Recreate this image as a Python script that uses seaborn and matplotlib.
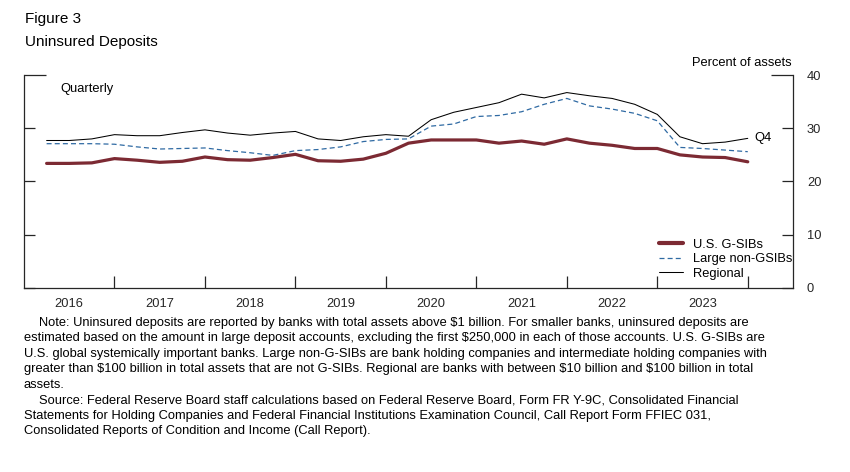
import numpy as np
import pandas as pd
import matplotlib
matplotlib.use("Agg")
import matplotlib.pyplot as plt
import seaborn as sns

# ── data (percent of assets, quarterly 2016Q1 .. 2023Q4) ──────────────────────
years = list(range(2016, 2024))
quarters = [1, 2, 3, 4]

gsib = [23.4, 23.4, 23.5, 24.3,
        24.0, 23.6, 23.8, 24.6,
        24.1, 24.0, 24.5, 25.1,
        23.9, 23.8, 24.2, 25.3,
        27.2, 27.8, 27.8, 27.8,
        27.2, 27.6, 27.0, 28.0,
        27.2, 26.8, 26.2, 26.2,
        25.0, 24.6, 24.5, 23.7]

large_non_gsib = [27.1, 27.1, 27.1, 27.0,
                  26.5, 26.1, 26.2, 26.3,
                  25.8, 25.4, 24.9, 25.8,
                  26.0, 26.5, 27.5, 27.9,
                  28.0, 30.4, 30.8, 32.2,
                  32.4, 33.1, 34.5, 35.6,
                  34.2, 33.6, 32.8, 31.4,
                  26.4, 26.2, 25.9, 25.6]

regional = [27.7, 27.7, 28.0, 28.8,
            28.6, 28.6, 29.2, 29.7,
            29.1, 28.7, 29.1, 29.4,
            28.0, 27.7, 28.4, 28.8,
            28.5, 31.6, 33.0, 33.9,
            34.8, 36.4, 35.7, 36.7,
            36.1, 35.6, 34.5, 32.6,
            28.4, 27.1, 27.4, 28.1]

series_labels = ["U.S. G-SIBs", "Large non-GSIBs", "Regional"]
y_ticks = [0, 10, 20, 30, 40]

# quarter-end positions on a continuous year axis
x = [y + q / 4 for y in years for q in quarters]
df = pd.DataFrame({"x": x, "gsib": gsib, "nongsib": large_non_gsib,
                   "regional": regional})

# ── style ────────────────────────────────────────────────────────────────────
sns.set_style("ticks")
plt.rcParams["font.family"] = ["Liberation Sans", "DejaVu Sans"]
plt.rcParams["text.color"] = "black"
fs = 9.3  # small text size

fig = plt.figure(figsize=(8.5, 4.72), dpi=100)
ax = fig.add_axes([24 / 850, 1 - 288 / 472, (793 - 24) / 850, (288 - 75) / 472])

sns.lineplot(data=df, x="x", y="gsib", ax=ax, color="#7c2a33", linewidth=2.3,
             label=series_labels[0], errorbar=None)
sns.lineplot(data=df, x="x", y="nongsib", ax=ax, color="#2f6aa3", linewidth=0.9,
             linestyle=(0, (4, 2.5)), label=series_labels[1], errorbar=None)
sns.lineplot(data=df, x="x", y="regional", ax=ax, color="black", linewidth=0.75,
             label=series_labels[2], errorbar=None)

# ── axes ─────────────────────────────────────────────────────────────────────
ax.set_xlim(2016, 2024.5)
ax.set_ylim(0, 40)
ax.set_xlabel("")
ax.set_ylabel("")
ax.spines["top"].set_visible(False)
for s in ["left", "right", "bottom"]:
    ax.spines[s].set_linewidth(0.9)

ax.set_xticks([y + 1 for y in years])
ax.set_xticklabels([])
ax.set_xticks([y + 0.5 for y in years], minor=True)
ax.set_xticklabels([str(y) for y in years], minor=True)
ax.tick_params(axis="x", which="major", direction="in", length=8.6, width=0.9)
ax.tick_params(axis="x", which="minor", length=0, pad=7, labelsize=fs)

ax.set_yticks(y_ticks[:-1])
ax.set_yticks(y_ticks[-1:], minor=True)
ax.yaxis.set_major_formatter(matplotlib.ticker.FixedFormatter([str(t) for t in y_ticks[:-1]]))
ax.yaxis.set_minor_formatter(matplotlib.ticker.FixedFormatter([str(y_ticks[-1])]))
ax.tick_params(axis="y", which="both", direction="in", left=True, right=True,
               labelleft=False, labelright=True, width=0.9, pad=10, labelsize=fs)
ax.tick_params(axis="y", which="major", length=8)
ax.tick_params(axis="y", which="minor", length=16)

# ── annotations ──────────────────────────────────────────────────────────────
ax.text(0.047, 0.934, "Quarterly", transform=ax.transAxes, fontsize=fs,
        ha="left", va="center")
ax.annotate("Q4", xy=(x[-1], regional[-1]), xytext=(4.5, 0.3), textcoords="offset points",
            fontsize=fs, ha="left", va="center")
fig.text(792 / 850, 1 - 62.5 / 472, "Percent of assets", fontsize=fs,
         ha="right", va="center")

leg = ax.legend(loc="upper left", bbox_to_anchor=(0.826, 0.232), frameon=False,
                fontsize=fs, handlelength=1.85, handletextpad=0.8, labelspacing=0.2,
                borderpad=0, borderaxespad=0)
leg.get_lines()[0].set_linewidth(3)

fig.text(25 / 850, 1 - 19 / 472, "Figure 3", fontsize=11, ha="left", va="center")
fig.text(25 / 850, 1 - 42 / 472, "Uninsured Deposits", fontsize=11, ha="left", va="center")

notes = [
    (39, "Note: Uninsured deposits are reported by banks with total assets above \\$1 billion. For smaller banks, uninsured deposits are"),
    (24, "estimated based on the amount in large deposit accounts, excluding the first \\$250,000 in each of those accounts. U.S. G-SIBs are"),
    (24, "U.S. global systemically important banks. Large non-G-SIBs are bank holding companies and intermediate holding companies with"),
    (24, "greater than \\$100 billion in total assets that are not G-SIBs. Regional are banks with between \\$10 billion and \\$100 billion in total"),
    (24, "assets."),
    (39, "Source: Federal Reserve Board staff calculations based on Federal Reserve Board, Form FR Y-9C, Consolidated Financial"),
    (24, "Statements for Holding Companies and Federal Financial Institutions Examination Council, Call Report Form FFIEC 031,"),
    (24, "Consolidated Reports of Condition and Income (Call Report)."),
]
for i, (xpx, line) in enumerate(notes):
    fig.text(xpx / 850, 1 - (322.7 + i * 15.5) / 472, line, fontsize=fs,
             ha="left", va="center")

fig.savefig("out.png", dpi=100)
plt.close(fig)
